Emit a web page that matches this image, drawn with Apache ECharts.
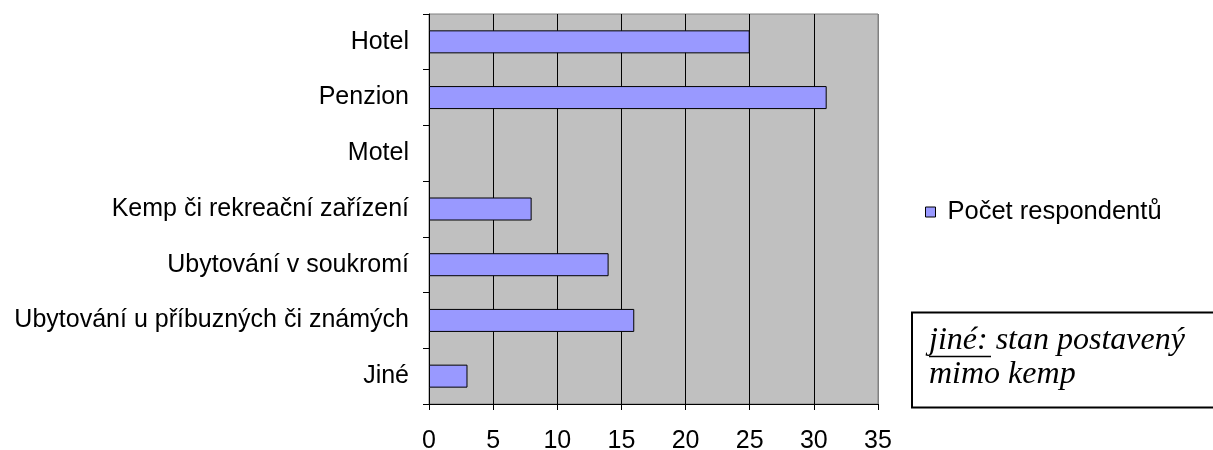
<!DOCTYPE html>
<html>
<head>
<meta charset="utf-8">
<script src="https://cdn.jsdelivr.net/npm/echarts@6/dist/echarts.min.js"></script>
<style>
html,body{margin:0;padding:0;background:#fff;}
#c{width:1213px;height:450px;}
</style>
</head>
<body>
<div id="c"></div>
<script>
var categories = ['Hotel', 'Penzion', 'Motel', 'Kemp či rekreační zařízení', 'Ubytování v soukromí', 'Ubytování u příbuzných či známých', 'Jiné'];
var values = [25, 31, 0, 8, 14, 16, 3];
var seriesName = 'Počet respondentů';
var xTicks = [0, 5, 10, 15, 20, 25, 30, 35];
var noteLine1Underlined = 'jiné:';
var noteLine1Rest = ' stan postavený';
var noteLine2 = 'mimo kemp';

var chart = echarts.init(document.getElementById('c'), null, {renderer: 'canvas'});
var sans = 'Liberation Sans, Arial, sans-serif';
var serif = 'Liberation Serif, Times New Roman, serif';

var barData = values.map(function (v) {
  return v === 0 ? {value: v, itemStyle: {borderWidth: 0, opacity: 0}} : v;
});

chart.setOption({
  animation: false,
  backgroundColor: '#fff',
  grid: {
    left: 429, right: 335, top: 14, bottom: 46,
    show: true, backgroundColor: '#C0C0C0', borderColor: '#808080', borderWidth: 1,
    containLabel: false, outerBoundsMode: 'none'
  },
  legend: {
    show: true,
    data: [seriesName],
    left: 920, top: 194,
    icon: 'rect', itemWidth: 10, itemHeight: 10,
    itemStyle: {borderColor: '#000', borderWidth: 1},
    textStyle: {fontFamily: sans, fontSize: 25.5, color: '#000', padding: [0, 0, 0, 7]}
  },
  xAxis: {
    type: 'value', min: xTicks[0], max: xTicks[xTicks.length - 1], interval: 5,
    axisLine: {show: true, lineStyle: {color: '#000', width: 1}},
    axisTick: {show: true, length: 6, lineStyle: {color: '#000'}},
    axisLabel: {fontFamily: sans, fontSize: 25, color: '#000', margin: 25},
    splitLine: {show: true, lineStyle: {color: ['#000', '#000', '#000', '#000', '#000', '#000', '#000', '#808080'], width: 1}}
  },
  yAxis: {
    type: 'category', data: categories, inverse: true,
    axisLine: {show: true, lineStyle: {color: '#000', width: 1}},
    axisTick: {show: true, length: 6, lineStyle: {color: '#000'}},
    axisLabel: {fontFamily: sans, fontSize: 25, color: '#000', margin: 20},
    splitLine: {show: false}
  },
  series: [{
    name: seriesName,
    type: 'bar',
    data: barData,
    barWidth: 23,
    itemStyle: {color: '#9999FF', borderColor: '#000', borderWidth: 1}
  }],
  graphic: [
    {type: 'rect', shape: {x: 912, y: 312.5, width: 320, height: 95},
     style: {fill: '#fff', stroke: '#000', lineWidth: 2}, z: 10},
    {type: 'text', x: 929, y: 324, z: 11,
     style: {text: noteLine1Underlined + noteLine1Rest + '\n' + noteLine2,
       font: 'italic 32px ' + serif, fill: '#000', lineHeight: 34}},
    {type: 'line', shape: {x1: 929, y1: 356.5, x2: 991, y2: 356.5},
     style: {stroke: '#000', lineWidth: 1.5}, z: 11}
  ]
});
</script>
</body>
</html>
